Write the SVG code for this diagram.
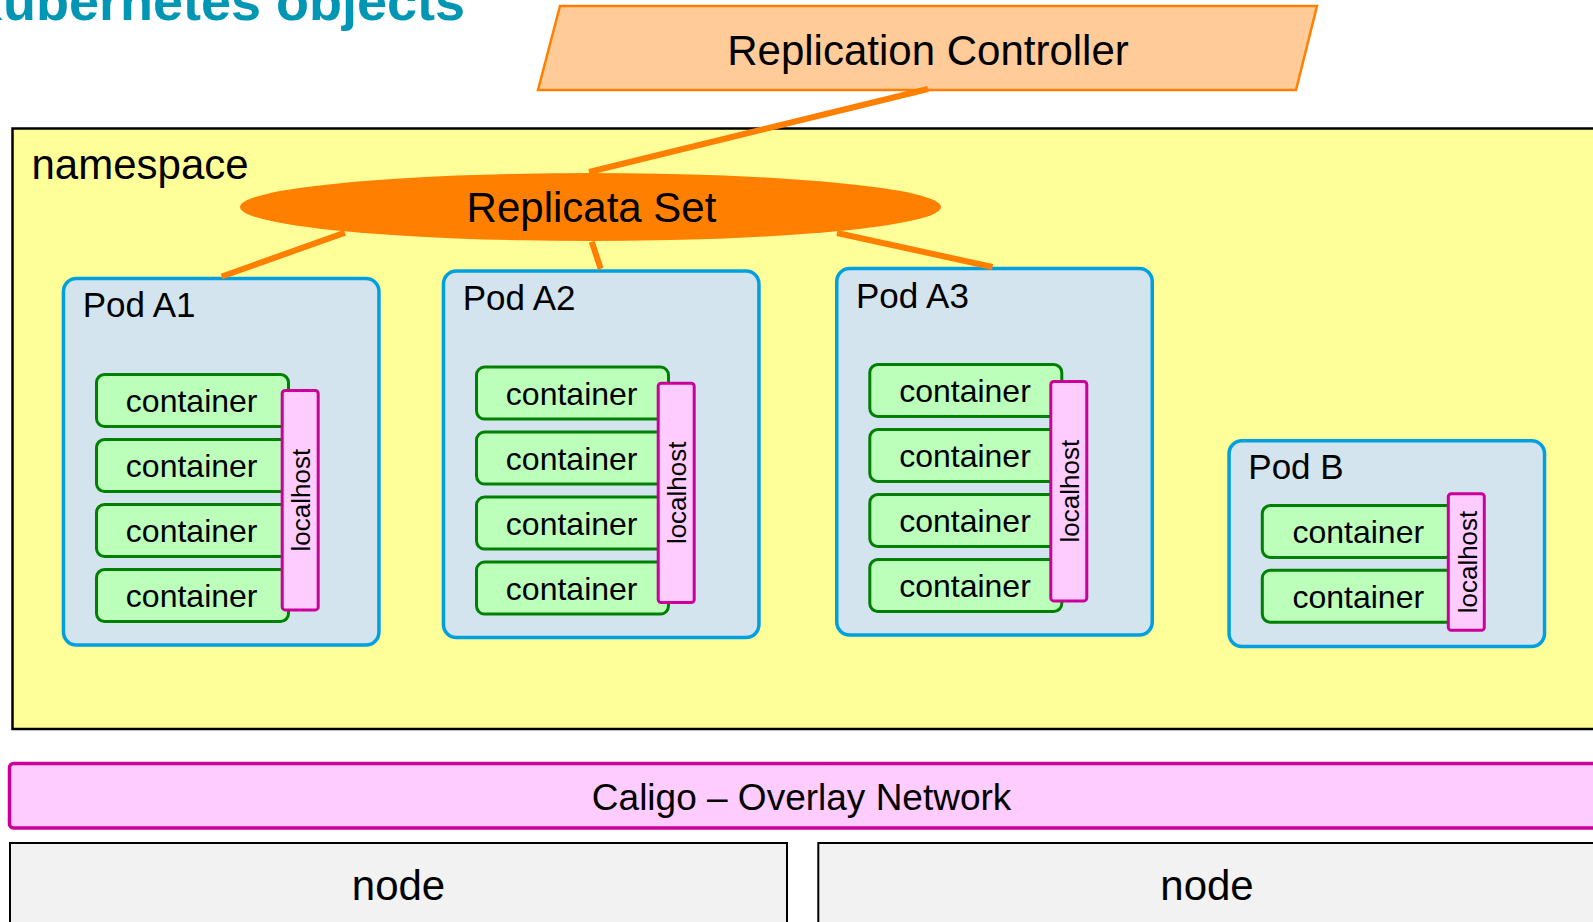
<svg xmlns="http://www.w3.org/2000/svg" width="1593" height="922" viewBox="0 0 1593 922">
<style>
text{font-family:"Liberation Sans",Arial,sans-serif;fill:#000}
.pod{fill:#D4E4EE;stroke:#00A0E0;stroke-width:3.5}
.ctr{fill:#BBFFBB;stroke:#008000;stroke-width:3}
.lh{fill:#FFCCFF;stroke:#CC0099;stroke-width:3}
.podlbl{font-size:35px}
.ctrt{font-size:32px;text-anchor:middle}
.lht{font-size:26px;text-anchor:middle}
.conn{stroke:#FF8000;stroke-width:6;fill:none}
</style>
<defs>
<g id="pod4">
<rect class="pod" x="1.75" y="1.75" width="315.5" height="366.5" rx="13"/>
<rect class="ctr" x="34.8" y="97.8" width="192" height="52" rx="8"/>
<rect class="ctr" x="34.8" y="162.8" width="192" height="52" rx="8"/>
<rect class="ctr" x="34.8" y="227.8" width="192" height="52" rx="8"/>
<rect class="ctr" x="34.8" y="292.8" width="192" height="52" rx="8"/>
<text class="ctrt" x="130" y="135.6">container</text>
<text class="ctrt" x="130" y="200.6">container</text>
<text class="ctrt" x="130" y="265.6">container</text>
<text class="ctrt" x="130" y="330.6">container</text>
</g>
</defs>
<text x="-36" y="20" style="font-size:54px;font-weight:bold;fill:#0096B4">Kubernetes objects</text>
<g id="replication-controller">
<polygon points="560,6 1317,6 1296,90 538,90" fill="#FFCC99" stroke="#FF8000" stroke-width="2.5"/>
<text x="928" y="65" style="font-size:42px;text-anchor:middle">Replication Controller</text>
</g>
<g id="namespace">
<rect x="12.5" y="128.5" width="1700" height="600.5" fill="#FFFF99" stroke="#000" stroke-width="2.5"/>
<text x="31.5" y="179" style="font-size:42px">namespace</text>
</g>
<g id="pod-a1" transform="translate(61.7,276.7)">
<use href="#pod4"/>
<text class="podlbl" x="21" y="40">Pod A1</text>
<rect class="lh" x="220.5" y="113.8" width="36" height="219.4" rx="3"/>
<text class="lht" transform="translate(248.5,223.5) rotate(-90)">localhost</text>
</g>
<g id="pod-a2" transform="translate(441.7,269.3)">
<use href="#pod4"/>
<text class="podlbl" x="21" y="40.5">Pod A2</text>
<rect class="lh" x="216.5" y="113.9" width="36" height="219.4" rx="3"/>
<text class="lht" transform="translate(244.5,223.5) rotate(-90)">localhost</text>
</g>
<g id="pod-a3" transform="translate(835,266.7)">
<use href="#pod4"/>
<text class="podlbl" x="21" y="41">Pod A3</text>
<rect class="lh" x="215.8" y="114.8" width="36" height="219.4" rx="3"/>
<text class="lht" transform="translate(243.8,224.5) rotate(-90)">localhost</text>
</g>
<g id="pod-b" transform="translate(1227.3,439)">
<rect class="pod" x="1.75" y="1.75" width="315.5" height="205.8" rx="13"/>
<text class="podlbl" x="21" y="39.5">Pod B</text>
<rect class="ctr" x="35" y="66.5" width="192" height="52" rx="8"/>
<rect class="ctr" x="35" y="131.2" width="192" height="52" rx="8"/>
<text class="ctrt" x="131" y="104.3">container</text>
<text class="ctrt" x="131" y="169">container</text>
<rect class="lh" x="221" y="54.8" width="36" height="136.4" rx="3"/>
<text class="lht" transform="translate(249.5,123) rotate(-90)">localhost</text>
</g>
<g id="replicata-set">
<ellipse cx="590.5" cy="207" rx="350.5" ry="34" fill="#FF8000"/>
<text x="591.5" y="222" style="font-size:42px;text-anchor:middle">Replicata Set</text>
</g>
<g id="overlay-network">
<rect x="9.5" y="763.5" width="1700" height="64.5" rx="4" fill="#FFCCFF" stroke="#CC0099" stroke-width="3.5"/>
<text x="801.6" y="810" style="font-size:37px;text-anchor:middle">Caligo – Overlay Network</text>
</g>
<g id="node-1">
<rect x="10" y="843" width="777" height="200" fill="#F2F2F2" stroke="#000" stroke-width="2"/>
<text x="398.5" y="900" style="font-size:42px;text-anchor:middle">node</text>
</g>
<g id="node-2">
<rect x="818.3" y="843" width="800" height="200" fill="#F2F2F2" stroke="#000" stroke-width="2"/>
<text x="1207" y="900" style="font-size:42px;text-anchor:middle">node</text>
</g>
<g id="connectors">
<line class="conn" x1="928" y1="89" x2="589" y2="172"/>
<line class="conn" x1="345" y1="232.7" x2="221.7" y2="276.5"/>
<line class="conn" x1="591.7" y1="241.7" x2="600.7" y2="268.8"/>
<line class="conn" x1="837" y1="233" x2="992.5" y2="267"/>
</g>
</svg>
